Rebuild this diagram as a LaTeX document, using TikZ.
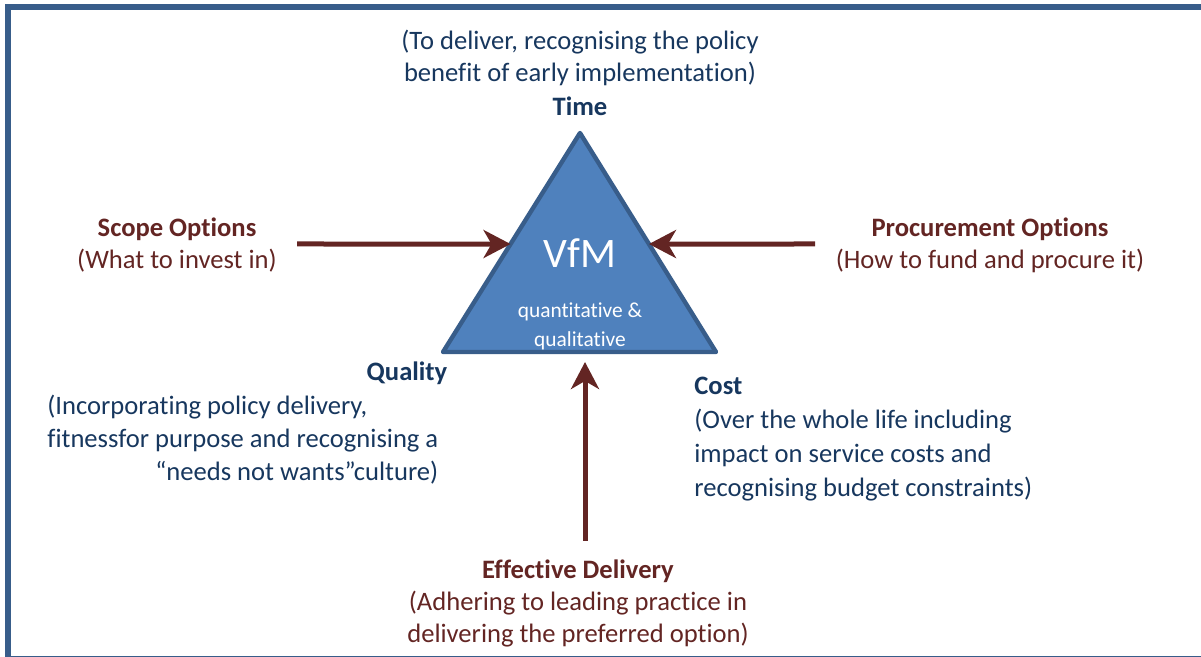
\documentclass[tikz,border=0pt]{standalone}
\usepackage{fontspec}
\setmainfont[Ligatures=NoCommon]{Carlito}
\usepackage{tikz}
\usetikzlibrary{arrows.meta}
\usetikzlibrary{calc}
\definecolor{navy}{HTML}{17375E}
\definecolor{wine}{HTML}{632523}
\definecolor{vfmfill}{HTML}{4F81BD}
\definecolor{vfmline}{HTML}{385D8A}
\tikzset{
  txt/.style={inner sep=0, font=\fontsize{13.3}{16}\selectfont},
  blue txt/.style={txt, text=navy},
  red txt/.style={txt, text=wine},
  push/.style={wine, line width=2.5pt,
    -{Stealth[length=13.5pt, width=14pt, inset=4pt]}},
}

\begin{document}
\begin{tikzpicture}[x=0.5pt, y=-0.5pt]
  \useasboundingbox (0, 0) rectangle (1201, 657);
  \begin{scope}
    \clip (0, 0) rectangle (1201, 657);
    \draw[vfmline, line width=3pt] (8, 7) rectangle (1215, 659);
  \end{scope}

  % the VfM triangle
  \coordinate (apex) at (580, 133);
  \coordinate (lft) at (443, 352);
  \coordinate (rgt) at (716, 352);
  \draw[vfmline, fill=vfmfill, line width=2.2pt, line join=round]
    (apex) -- (lft) -- (rgt) -- cycle;
  \node[inner sep=0, white, font=\fontsize{21}{24}\selectfont] at (580, 253) (vfm) {VfM};
  \node[inner sep=0, white, align=center, font=\fontsize{10.7}{14.5}\selectfont]
    at (580, 326) (kind) {quantitative \&\\qualitative};

  % corners
  \node[blue txt, align=center] at (580, 58) (timetxt)
    {(To deliver, recognising the policy\\benefit of early implementation)};
  \node[blue txt, font=\fontsize{13.3}{16}\selectfont\bfseries] at (580, 106) (time) {Time};

  \node[blue txt, font=\fontsize{13.3}{16}\selectfont\bfseries] at (407, 373) (quality) {Quality};
  \node[blue txt, anchor=west] at (47, 441) (qualitytxt)
    {\begin{tabular}{@{}l@{}}
      (Incorporating policy delivery,\\[0.6pt]
      fitnessfor purpose and recognising a\\[0.6pt]
      \multicolumn{1}{@{}r@{}}{``needs not wants''culture)}
    \end{tabular}};

  \node[blue txt, anchor=west, align=left, font=\fontsize{13.3}{17}\selectfont] at (694, 439) (cost)
    {\textbf{Cost}\\(Over the whole life including\\impact on service costs and\\recognising budget constraints)};

  % options
  \node[red txt, align=center] at (177, 245) (scope)
    {\textbf{Scope Options}\\(What to invest in)};
  \node[red txt, align=center] at (990, 245) (procure)
    {\textbf{Procurement Options}\\(How to fund and procure it)};
  \node[red txt, align=center] at (578, 603) (delivery)
    {\textbf{Effective Delivery}\\(Adhering to leading practice in\\delivering the preferred option)};

  \coordinate (scopeA) at (297, 244);
  \coordinate (procureA) at (815, 244);
  \coordinate (deliveryA) at (585, 541);
  \coordinate (deliveryB) at (585, 362);
  \draw[push] (scopeA) -- ($(apex)!0.507!(lft)$);
  \draw[push] (procureA) -- ($(apex)!0.507!(rgt)$);
  \draw[push] (deliveryA) -- (deliveryB);
\end{tikzpicture}
\end{document}
